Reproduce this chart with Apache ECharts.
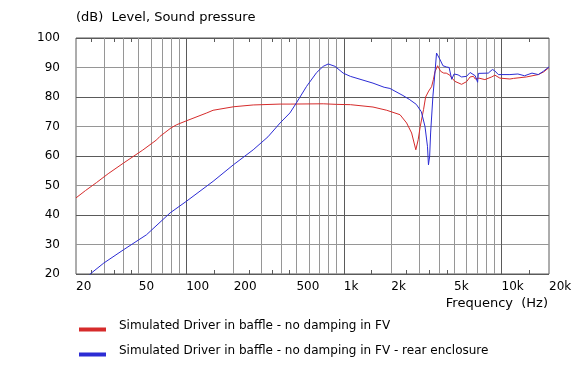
<!DOCTYPE html>
<html>
<head>
<meta charset="utf-8">
<script src="https://cdn.jsdelivr.net/npm/echarts@6/dist/echarts.min.js"></script>
<style>html,body{margin:0;padding:0;background:#fff;}#c{width:578px;height:390px;}</style>
</head>
<body>
<div id="c"></div>
<script>
const redFreq = [20, 23, 27, 32, 40, 53, 65, 68, 80, 87, 100, 135, 148, 200, 266, 394, 456, 740, 900, 1100, 1530, 1870, 2270, 2500, 2690, 2860, 2960, 3050, 3200, 3300, 3450, 3600, 3700, 3780, 3930, 4110, 4300, 4460, 4700, 4850, 5060, 5580, 6000, 6320, 6640, 6810, 7190, 7840, 8660, 9080, 9760, 11300, 11900, 14400, 17100, 18500, 20000];
const redDb = [45.8, 48.3, 51.0, 54.0, 57.6, 62.0, 65.5, 66.6, 69.5, 70.6, 71.9, 74.6, 75.5, 76.7, 77.3, 77.6, 77.6, 77.7, 77.5, 77.4, 76.6, 75.5, 74.0, 71.2, 67.8, 62.1, 65.5, 70.0, 75.7, 80.0, 82.0, 83.5, 86.0, 88.5, 90.6, 88.7, 88.1, 88.1, 87.4, 86.4, 85.3, 84.3, 85.2, 86.8, 87.0, 86.1, 86.4, 85.9, 86.8, 87.4, 86.4, 86.1, 86.3, 86.8, 87.6, 88.5, 90.0];
const blueFreq = [23, 25, 30, 40, 56, 79, 100, 148, 199, 266, 330, 394, 455, 500, 580, 672, 740, 796, 878, 990, 1100, 1530, 1800, 1960, 2370, 2600, 2880, 3100, 3270, 3390, 3440, 3500, 3550, 3670, 3780, 3870, 3950, 4080, 4250, 4460, 4650, 4830, 5000, 5300, 5580, 6000, 6320, 6810, 6950, 7050, 7130, 7300, 8240, 8740, 9000, 9550, 9760, 11300, 12700, 14000, 15600, 17100, 18400, 20000];
const blueDb = [18.5, 20.3, 23.7, 28.2, 33.3, 40.7, 44.6, 51.4, 57.0, 62.1, 66.5, 71.2, 74.6, 78.0, 83.6, 88.3, 90.4, 91.2, 90.4, 88.1, 87.0, 84.7, 83.3, 82.9, 80.5, 79.2, 77.5, 75.0, 70.0, 63.3, 57.0, 59.9, 67.8, 80.2, 88.1, 94.9, 95.2, 92.6, 90.6, 90.2, 90.0, 86.0, 87.8, 87.5, 86.8, 87.0, 88.3, 87.2, 86.8, 85.0, 88.0, 88.1, 88.1, 89.3, 89.0, 87.6, 87.3, 87.6, 87.8, 87.2, 88.1, 87.6, 88.7, 90.2];
const xLabelValues = [20, 50, 100, 200, 500, 1000, 2000, 5000, 10000, 20000];
const xMinorGrid = [30, 40, 50, 60, 70, 80, 90, 200, 300, 400, 500, 600, 700, 800, 900, 2000, 3000, 4000, 5000, 6000, 7000, 8000, 9000];
const xMajorGrid = [100, 1000, 10000];
const xSmallTicks = [25, 35, 45, 150, 250, 350, 450, 1500, 2500, 3500, 4500, 15000];
const yMinorGrid = [30, 50, 70, 90];
const seriesNames = ['Simulated Driver in baffle - no damping in FV', 'Simulated Driver in baffle - no damping in FV - rear enclosure'];

const FONT = 'DejaVu Sans';
const LIGHT = '#969696', DARK = '#5a5a5a';
const zip = (a, b) => a.map((v, i) => [v, b[i]]);
const fmtHz = v => v >= 1000 ? (v / 1000) + 'k' : String(v);
// legend swatch: invisible hairline at top keeps the box, visible bar sits lower
const SWATCH = 'path://M0,0L27,0L27,0.01Z M0,7L27,7L27,11L0,11Z';

function logAxis(extra) {
  return Object.assign({
    type: 'log', logBase: 10, min: 20, max: 20000, gridIndex: 0,
    axisLine: {show: false}, axisTick: {show: false}, axisLabel: {show: false},
    splitLine: {show: false}, minorTick: {show: false}, minorSplitLine: {show: false}
  }, extra);
}

const chart = echarts.init(document.getElementById('c'), null, {renderer: 'canvas'});
chart.setOption({
  animation: false,
  backgroundColor: '#fff',
  textStyle: {fontFamily: FONT},
  title: [
    {text: '(dB)  Level, Sound pressure', left: 76, top: 11, padding: 0,
     textStyle: {fontFamily: FONT, fontSize: 13, fontWeight: 'normal', color: '#000'}},
    {text: 'Frequency  (Hz)', right: 30, top: 297, padding: 0,
     textStyle: {fontFamily: FONT, fontSize: 13, fontWeight: 'normal', color: '#000'}}
  ],
  grid: {left: 76, top: 38, width: 473, height: 236, show: true, borderColor: DARK, borderWidth: 1, backgroundColor: 'transparent', containLabel: false},
  legend: {
    orient: 'vertical', left: 79, top: 320, padding: 0, itemGap: 13,
    itemWidth: 27, itemHeight: 11, icon: SWATCH,
    textStyle: {fontFamily: FONT, fontSize: 12, color: '#000', padding: [0, 0, 0, 8]},
    data: seriesNames
  },
  xAxis: [
    logAxis({
      axisLabel: {show: true, customValues: xLabelValues, formatter: v => fmtHz(v), align: 'left', margin: 7,
                  fontFamily: FONT, fontSize: 12, color: '#000', showMinLabel: true, showMaxLabel: true, hideOverlap: false},
      axisTick: {show: false, customValues: xMinorGrid},
      splitLine: {show: true, lineStyle: {color: LIGHT, width: 1}}
    }),
    logAxis({
      axisTick: {show: false, customValues: xMajorGrid},
      splitLine: {show: true, lineStyle: {color: DARK, width: 1}}
    }),
    logAxis({
      position: 'bottom',
      axisTick: {show: true, inside: true, length: 4, customValues: xSmallTicks, lineStyle: {color: DARK}}
    }),
    logAxis({
      position: 'top',
      axisTick: {show: true, inside: true, length: 4, customValues: xSmallTicks, lineStyle: {color: DARK}}
    })
  ],
  yAxis: [
    {type: 'value', min: 20, max: 100, interval: 10, gridIndex: 0,
     axisLine: {show: false}, axisTick: {show: false, customValues: yMinorGrid},
     axisLabel: {margin: 16, fontFamily: FONT, fontSize: 12, color: '#000'},
     splitLine: {show: true, lineStyle: {color: LIGHT, width: 1}}},
    {type: 'value', min: 20, max: 100, interval: 20, gridIndex: 0,
     axisLine: {show: false}, axisTick: {show: false}, axisLabel: {show: false},
     splitLine: {show: true, lineStyle: {color: DARK, width: 1}}}
  ],
  series: [
    {name: seriesNames[0], type: 'line', xAxisIndex: 0, yAxisIndex: 0, data: zip(redFreq, redDb),
     showSymbol: false, symbol: 'none', clip: true, color: '#d62b2b', lineStyle: {width: 1, color: '#d62b2b'}, z: 3},
    {name: seriesNames[1], type: 'line', xAxisIndex: 0, yAxisIndex: 0, data: zip(blueFreq, blueDb),
     showSymbol: false, symbol: 'none', clip: true, color: '#2c2cd4', lineStyle: {width: 1, color: '#2c2cd4'}, z: 4}
  ]
});
</script>
</body>
</html>
